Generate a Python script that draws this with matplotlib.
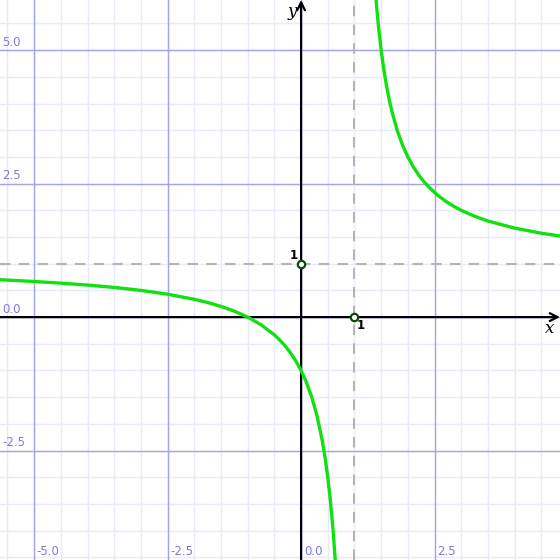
import matplotlib.pyplot as plt
import numpy as np

# curve, two branches around the asymptote x = 1
left_x = [-5.64, -5.0, -4.5, -4.0, -3.5, -3.0, -2.5, -2.0, -1.75, -1.5, -1.25, -1.0, -0.75, -0.5,
          -0.4, -0.3, -0.2, -0.1, 0.0, 0.1, 0.2, 0.3, 0.4, 0.45, 0.5, 0.55, 0.6, 0.64]
left_y = [0.70, 0.667, 0.636, 0.60, 0.556, 0.50, 0.429, 0.333, 0.273, 0.20, 0.111, 0.0, -0.143, -0.333,
          -0.429, -0.538, -0.667, -0.818, -1.0, -1.222, -1.5, -1.857, -2.333, -2.636, -3.0, -3.444,
          -4.0, -4.556]
right_x = [1.40, 1.42, 1.45, 1.5, 1.55, 1.6, 1.65, 1.7, 1.8, 1.9, 2.0, 2.1, 2.2, 2.3, 2.4, 2.55,
           2.7, 2.85, 3.0, 3.25, 3.5, 4.0, 4.5, 4.85]
right_y = [6.0, 5.762, 5.444, 5.0, 4.636, 4.333, 4.077, 3.857, 3.5, 3.222, 3.0, 2.818, 2.667,
           2.538, 2.429, 2.290, 2.176, 2.081, 2.0, 1.889, 1.8, 1.667, 1.571, 1.519]

asym_x = 1
asym_y = 1
marked = [(0, 1), (1, 0)]
major_ticks = [-5.0, -2.5, 0.0, 2.5, 5.0]

xmin, xmax = -5.64, 4.85
ymin, ymax = -4.55, 5.94

fig = plt.figure(figsize=(5.6, 5.6), dpi=100)
ax = fig.add_axes([0, 0, 1, 1])
ax.set_xlim(xmin, xmax)
ax.set_ylim(ymin, ymax)
for s in ax.spines.values():
    s.set_visible(False)
ax.set_xticks([])
ax.set_yticks([])

# grid
minor = np.arange(-6, 6.01, 0.5)
for v in minor:
    ax.axvline(v, color='#e6eafc', lw=1.0, zorder=0)
    ax.axhline(v, color='#e6eafc', lw=1.0, zorder=0)
for v in major_ticks:
    ax.axvline(v, color='#a4a4ec', lw=1.0, zorder=1)
    ax.axhline(v, color='#a4a4ec', lw=1.0, zorder=1)

# tick labels
lab_col = '#7b7be0'
for v in major_ticks:
    if ymin < v < ymax:
        ax.text(xmin + 0.04, v + 0.03, f'{v:.1f}', color=lab_col, fontsize=8.5,
                ha='left', va='bottom', zorder=3)
    if xmin < v < xmax:
        ax.text(v + 0.05, ymin + 0.03, f'{v:.1f}', color=lab_col, fontsize=8.5,
                ha='left', va='bottom', zorder=3)

# asymptotes
ax.axvline(asym_x, color='#b4b4b4', lw=1.5, ls=(0, (5, 4)), zorder=2)
ax.axhline(asym_y, color='#b4b4b4', lw=1.5, ls=(0, (5, 4)), zorder=2)

# axes with arrows
ax.annotate('', xy=(xmax, 0), xytext=(xmin, 0),
            arrowprops=dict(arrowstyle='->', color='black', lw=1.6,
                            mutation_scale=14, shrinkA=0, shrinkB=0), zorder=4)
ax.annotate('', xy=(0, ymax), xytext=(0, ymin),
            arrowprops=dict(arrowstyle='->', color='black', lw=1.6,
                            mutation_scale=14, shrinkA=0, shrinkB=0), zorder=4)
ax.text(xmax - 0.1, -0.05, 'x', fontsize=12, style='italic', family='DejaVu Serif',
        ha='right', va='top', zorder=5)
ax.text(-0.08, ymax - 0.05, 'y', fontsize=12, style='italic', family='DejaVu Serif',
        ha='right', va='top', zorder=5)

# curve
ax.plot(left_x, left_y, color='#11e011', lw=2.4, zorder=6, solid_capstyle='round')
ax.plot(right_x, right_y, color='#11e011', lw=2.4, zorder=6, solid_capstyle='round')

# marked points
px = [p[0] for p in marked]
py = [p[1] for p in marked]
ax.scatter(px, py, s=28, facecolor='white', edgecolor='#0b4a0b', linewidth=1.6, zorder=7)
ax.text(-0.06, 1.03, '1', fontsize=8.5, fontweight='bold', ha='right', va='bottom', zorder=7)
ax.text(1.04, -0.03, '1', fontsize=8.5, fontweight='bold', ha='left', va='top', zorder=7)

fig.savefig('out.png', dpi=100)
